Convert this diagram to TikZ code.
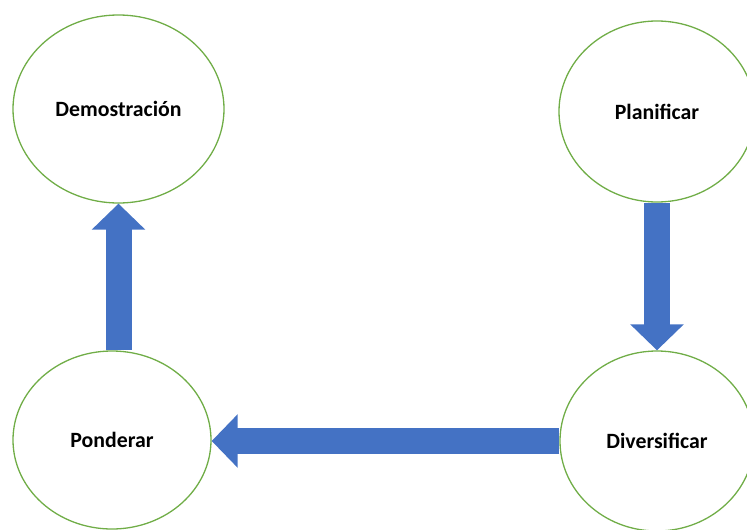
\documentclass[tikz,border=0pt]{standalone}
\usepackage{fontspec}
\setmainfont{Carlito}
\usetikzlibrary{arrows.meta,shapes.geometric}
\definecolor{verde}{HTML}{70AD47}
\definecolor{azul}{HTML}{4472C4}

\begin{document}
\begin{tikzpicture}[x=1pt,y=-1pt,
		fase/.style={draw=verde,line width=1.3pt,ellipse,inner sep=0pt,font=\fontsize{21.8}{26}\selectfont\bfseries},
		flecha/.style={color=azul,line width=26pt,-{Triangle[width=52pt,length=26pt]}}]
		\useasboundingbox (0,0) rectangle (747,530);
		\clip (0,0) rectangle (747,530);
		\node[fase,minimum width=211pt,minimum height=188pt] (dem) at (118.5,109) {Demostración};
		\node[fase,minimum width=196pt,minimum height=181pt] (pla) at (657,111.5) {Planificar};
		\node[fase,minimum width=194pt,minimum height=180pt] (div) at (657,441) {Diversificar};
		\node[fase,minimum width=198pt,minimum height=178pt] (pon) at (112,440) {Ponderar};
		\path[flecha]
		(pon.north -| dem.south) edge (dem.south)
		(pla.south) edge (div.north)
		(div.west) edge (pon.east |- div.west);
		
	\end{tikzpicture}
\end{document}
